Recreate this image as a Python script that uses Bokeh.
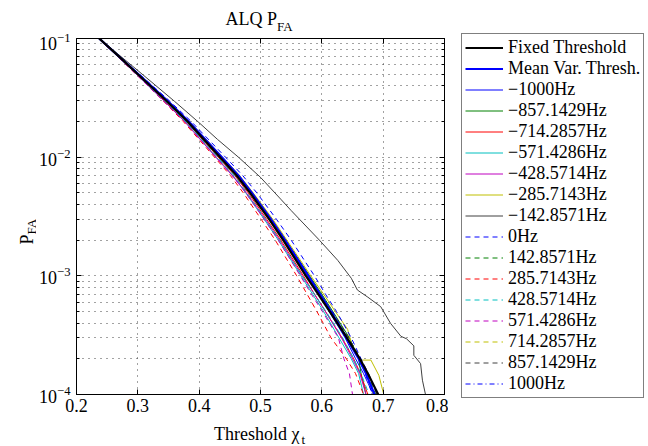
import math
from bokeh.plotting import figure
from bokeh.layouts import column, row
from bokeh.models import (Range1d, LinearAxis, LogAxis, FixedTicker, Label,
                          Legend, LegendItem, CustomJSTickFormatter)
from bokeh.embed import file_html
from bokeh.resources import INLINE

# ---------------- data ----------------
pfa_levels = [1e-1, 7e-2, 5e-2, 3e-2, 2e-2, 1e-2, 7e-3, 5e-3, 3e-3, 2e-3,
              1e-3, 7e-4, 5e-4, 3e-4, 2e-4, 1.5e-4, 1e-4]

thr_fixed = [0.237, 0.270, 0.300, 0.346, 0.381, 0.434, 0.461, 0.483, 0.514, 0.537,
             0.574, 0.594, 0.613, 0.641, 0.662, 0.675, 0.692]
thr_meanvar = [0.237, 0.270, 0.301, 0.348, 0.383, 0.437, 0.464, 0.486, 0.517, 0.540,
               0.578, 0.597, 0.615, 0.640, 0.660, 0.672, 0.686]
thr_m1000 = [0.237, 0.270, 0.300, 0.347, 0.382, 0.436, 0.462, 0.485, 0.516, 0.539,
             0.575, 0.595, 0.612, 0.638, 0.655, 0.668, 0.684]
thr_m857 = [0.237, 0.271, 0.301, 0.348, 0.383, 0.437, 0.464, 0.487, 0.518, 0.541,
            0.580, 0.600, 0.618, 0.645, 0.660, 0.664, 0.672]
thr_m714 = [0.237, 0.269, 0.299, 0.344, 0.379, 0.431, 0.458, 0.480, 0.510, 0.533,
            0.570, 0.588, 0.606, 0.633, 0.652, 0.663, 0.675]
thr_m571 = [0.236, 0.268, 0.298, 0.342, 0.377, 0.428, 0.455, 0.476, 0.506, 0.529,
            0.566, 0.585, 0.603, 0.628, 0.648, 0.660, 0.668]
thr_m428 = [0.236, 0.268, 0.298, 0.342, 0.376, 0.427, 0.454, 0.477, 0.508, 0.531,
            0.568, 0.588, 0.606, 0.632, 0.650, 0.662, 0.672]
thr_m285 = [0.237, 0.271, 0.301, 0.349, 0.384, 0.438, 0.466, 0.488, 0.520, 0.543,
            0.582, 0.603, 0.622, 0.642, 0.650, 0.664, 0.680, 0.693, 0.701]
pfa_m285 = [1e-1, 7e-2, 5e-2, 3e-2, 2e-2, 1e-2, 7e-3, 5e-3, 3e-3, 2e-3,
            1e-3, 7e-4, 5e-4, 3.55e-4, 2.51e-4, 1.95e-4, 1.95e-4, 1.45e-4, 1e-4]
thr_m142 = [0.237, 0.300, 0.323, 0.360, 0.400, 0.430, 0.464, 0.500, 0.534, 0.550,
            0.596, 0.626, 0.648, 0.658, 0.675, 0.696, 0.712, 0.729, 0.738, 0.750,
            0.750, 0.761, 0.764, 0.769]
pfa_m142 = [1e-1, 5.37e-2, 4.27e-2, 2.95e-2, 1.95e-2, 1.41e-2, 1.0e-2, 6.76e-3, 4.37e-3, 3.55e-3,
            2.0e-3, 1.35e-3, 9.55e-4, 7.59e-4, 6.61e-4, 5.50e-4, 3.98e-4, 3.09e-4, 2.95e-4, 2.57e-4,
            2.14e-4, 1.82e-4, 1.32e-4, 1.0e-4]
thr_p0 = [0.238, 0.271, 0.303, 0.351, 0.387, 0.443, 0.471, 0.494, 0.526, 0.550,
          0.588, 0.606, 0.624, 0.648, 0.664, 0.676, 0.690]
thr_p142 = [0.237, 0.270, 0.300, 0.346, 0.381, 0.434, 0.461, 0.484, 0.515, 0.538,
            0.576, 0.596, 0.616, 0.644, 0.663, 0.674, 0.688]
thr_p285 = [0.236, 0.268, 0.297, 0.341, 0.374, 0.425, 0.451, 0.472, 0.501, 0.524,
            0.559, 0.576, 0.592, 0.615, 0.640, 0.655, 0.668]
thr_p428 = [0.236, 0.269, 0.298, 0.343, 0.378, 0.430, 0.457, 0.478, 0.508, 0.531,
            0.568, 0.588, 0.607, 0.634, 0.652, 0.664, 0.677]
thr_p571 = [0.236, 0.268, 0.297, 0.341, 0.376, 0.428, 0.454, 0.476, 0.506, 0.529,
            0.565, 0.583, 0.601, 0.627, 0.636, 0.645, 0.650]
thr_p714 = [0.237, 0.270, 0.300, 0.347, 0.382, 0.435, 0.462, 0.484, 0.515, 0.538,
            0.576, 0.596, 0.614, 0.641, 0.660, 0.672, 0.684]
thr_p857 = [0.237, 0.270, 0.300, 0.346, 0.381, 0.435, 0.462, 0.485, 0.516, 0.540,
            0.578, 0.598, 0.617, 0.644, 0.663, 0.676, 0.690]
thr_p1000 = [0.237, 0.271, 0.301, 0.348, 0.383, 0.436, 0.463, 0.486, 0.517, 0.541,
             0.579, 0.598, 0.617, 0.642, 0.660, 0.671, 0.682]

series_labels = ["Fixed Threshold", "Mean Var. Thresh."]
freq_labels = ["\u22121000Hz", "\u2212857.1429Hz", "\u2212714.2857Hz", "\u2212571.4286Hz",
               "\u2212428.5714Hz", "\u2212285.7143Hz", "\u2212142.8571Hz", "0Hz",
               "142.8571Hz", "285.7143Hz", "428.5714Hz", "571.4286Hz", "714.2857Hz",
               "857.1429Hz", "1000Hz"]
x_ticks = [0.2, 0.3, 0.4, 0.5, 0.6, 0.7, 0.8]
y_ticks = [1e-4, 1e-3, 1e-2, 1e-1]

# ---------------- styling ----------------
FONT = "Liberation Serif"
C_B, C_G, C_R = "#0000ff", "#008000", "#ff0000"
C_C, C_M, C_Y, C_K = "#00bfbf", "#bf00bf", "#bfbf00", "#404040"

curves = [
    (thr_m1000, pfa_levels, C_B, "solid"),
    (thr_m857, pfa_levels, C_G, "solid"),
    (thr_m714, pfa_levels, C_R, "solid"),
    (thr_m571, pfa_levels, C_C, "solid"),
    (thr_m428, pfa_levels, C_M, "solid"),
    (thr_m285, pfa_m285, C_Y, "solid"),
    (thr_m142, pfa_m142, C_K, "solid"),
    (thr_p0, pfa_levels, C_B, "5 4"),
    (thr_p142, pfa_levels, C_G, "5 4"),
    (thr_p285, pfa_levels, C_R, "5 4"),
    (thr_p428, pfa_levels, C_C, "5 4"),
    (thr_p571, pfa_levels, C_M, "5 4"),
    (thr_p714, pfa_levels, C_Y, "5 4"),
    (thr_p857, pfa_levels, C_K, "5 4"),
    (thr_p1000, pfa_levels, C_B, "5 3 1 3"),
]
main_series = [(thr_fixed, pfa_levels, "black", 2.2), (thr_meanvar, pfa_levels, "#0000ff", 2.2)]

# page pieces (px)
TOP_H, MID_H, BOT_H = 33, 386, 27
YLAB_W, MAIN_W, LEG_W = 36, 412, 200
LEFT_W = YLAB_W + MAIN_W
PAGE_H = TOP_H + MID_H + BOT_H


def text_fig(w, h, top=0, bottom=0, xr=None, yr=None):
    f = figure(width=w, height=h, output_backend="svg", toolbar_location=None,
               x_range=xr if xr is not None else Range1d(0, w),
               y_range=yr if yr is not None else Range1d(0, h - top - bottom),
               x_axis_type=None, y_axis_type=None, min_border=0,
               min_border_top=top, min_border_bottom=bottom)
    f.outline_line_color = None
    f.background_fill_color = "white"
    f.border_fill_color = "white"
    return f


def add_label(f, text, x, y, size, angle=0.0):
    f.add_layout(Label(x=x, y=y, text=text, text_font=FONT, text_font_size=size,
                       text_color="black", text_align="left",
                       text_baseline="alphabetic", angle=angle))


# ---------------- main plot ----------------
p = figure(width=MAIN_W, height=MID_H, output_backend="svg", toolbar_location=None,
           y_axis_type="log", x_range=Range1d(0.2, 0.8), y_range=Range1d(1e-4, 1e-1),
           min_border_left=38, min_border_right=4, min_border_top=5,
           min_border_bottom=25)
p.background_fill_color = "white"
p.border_fill_color = "white"
p.outline_line_color = "black"
p.outline_line_width = 1

minor_y = [m * 10.0 ** e for e in (-4, -3, -2) for m in range(2, 10)]

p.xaxis.ticker = FixedTicker(ticks=x_ticks)
p.yaxis.ticker = FixedTicker(ticks=y_ticks, minor_ticks=minor_y)
for ax in (p.xaxis[0], p.yaxis[0]):
    ax.major_label_text_font = FONT
    ax.major_label_text_font_size = "18px"
    ax.major_label_text_color = "black"
    ax.axis_line_color = "black"
    ax.major_tick_line_color = "black"
    ax.minor_tick_line_color = "black"
    ax.major_tick_in = 5
    ax.major_tick_out = 0
    ax.minor_tick_in = 3
    ax.minor_tick_out = 0
p.xaxis.major_label_standoff = 4
p.yaxis.major_label_standoff = 6

blank = CustomJSTickFormatter(code="return ''")
top = LinearAxis(ticker=FixedTicker(ticks=x_ticks), formatter=blank,
                 major_tick_in=5, major_tick_out=0, minor_tick_in=0, minor_tick_out=0,
                 major_label_standoff=0,
                 axis_line_color="black", major_tick_line_color="black")
right = LogAxis(ticker=FixedTicker(ticks=y_ticks, minor_ticks=minor_y), formatter=blank,
                major_tick_in=5, major_tick_out=0, minor_tick_in=3, minor_tick_out=0,
                major_label_standoff=0,
                axis_line_color="black", major_tick_line_color="black",
                minor_tick_line_color="black")
p.add_layout(top, "above")
p.add_layout(right, "right")

p.xgrid.ticker = FixedTicker(ticks=x_ticks)
p.ygrid.ticker = FixedTicker(ticks=y_ticks, minor_ticks=minor_y)
for g in (p.xgrid[0], p.ygrid[0]):
    g.grid_line_color = "#444444"
    g.grid_line_dash = "1 5"
    g.grid_line_width = 1
p.ygrid.minor_grid_line_color = "#444444"
p.ygrid.minor_grid_line_dash = "1 5"

for (xs, ys, col, dash) in curves:
    p.line(xs, ys, line_color=col, line_width=1, line_dash=dash)
for (xs, ys, col, lw) in reversed(main_series):
    p.line(xs, ys, line_color=col, line_width=lw)

# ---------------- legend panel (full page height, right side) ----------------
# its own ranges keep the key's series off-screen; only the key swatches show
fl = text_fig(LEG_W, PAGE_H, xr=Range1d(10, 11), yr=Range1d(10, 11))
items = []
for lab, (xs, ys, col, lw) in zip(series_labels, main_series):
    r = fl.line(xs, ys, line_color=col, line_width=lw)
    items.append(LegendItem(label=lab, renderers=[r]))
for lab, (xs, ys, col, dash) in zip(freq_labels, curves):
    r = fl.line(xs, ys, line_color=col, line_width=1, line_dash=dash)
    items.append(LegendItem(label=lab, renderers=[r]))

legend = Legend(items=items, location=(13, 48))
legend.label_text_font = FONT
legend.label_text_font_size = "18px"
legend.label_text_color = "black"
legend.glyph_width = 38
legend.glyph_height = 21
legend.label_height = 21
legend.spacing = 0
legend.padding = 3
legend.margin = 0
legend.label_standoff = 5
legend.border_line_color = "black"
legend.border_line_width = 1
legend.background_fill_color = "white"
legend.background_fill_alpha = 1
fl.add_layout(legend, "center")

# ---------------- text strips ----------------
ft = text_fig(LEFT_W, TOP_H)
add_label(ft, "ALQ P", 225, TOP_H - 18.5, "18px")
add_label(ft, "FA", 276.5, TOP_H - 26, "13px")

# y-label strip uses the same borders as the main plot, so y is measured up from the frame bottom
fy = text_fig(YLAB_W, MID_H, top=5, bottom=25)
add_label(fy, "P", 26.5, 150, "18px", math.pi / 2)
add_label(fy, "FA", 31, 160, "13px", math.pi / 2)

fx = text_fig(LEFT_W, BOT_H)
add_label(fx, "Threshold \u03c7", 213.5, 13, "18px")
add_label(fx, "t", 301, 7, "13px")

left_block = column(ft, row(fy, p, spacing=0), fx, spacing=0)
layout = row(left_block, fl, spacing=0)
open("out.html", "w").write(file_html(layout, INLINE))
